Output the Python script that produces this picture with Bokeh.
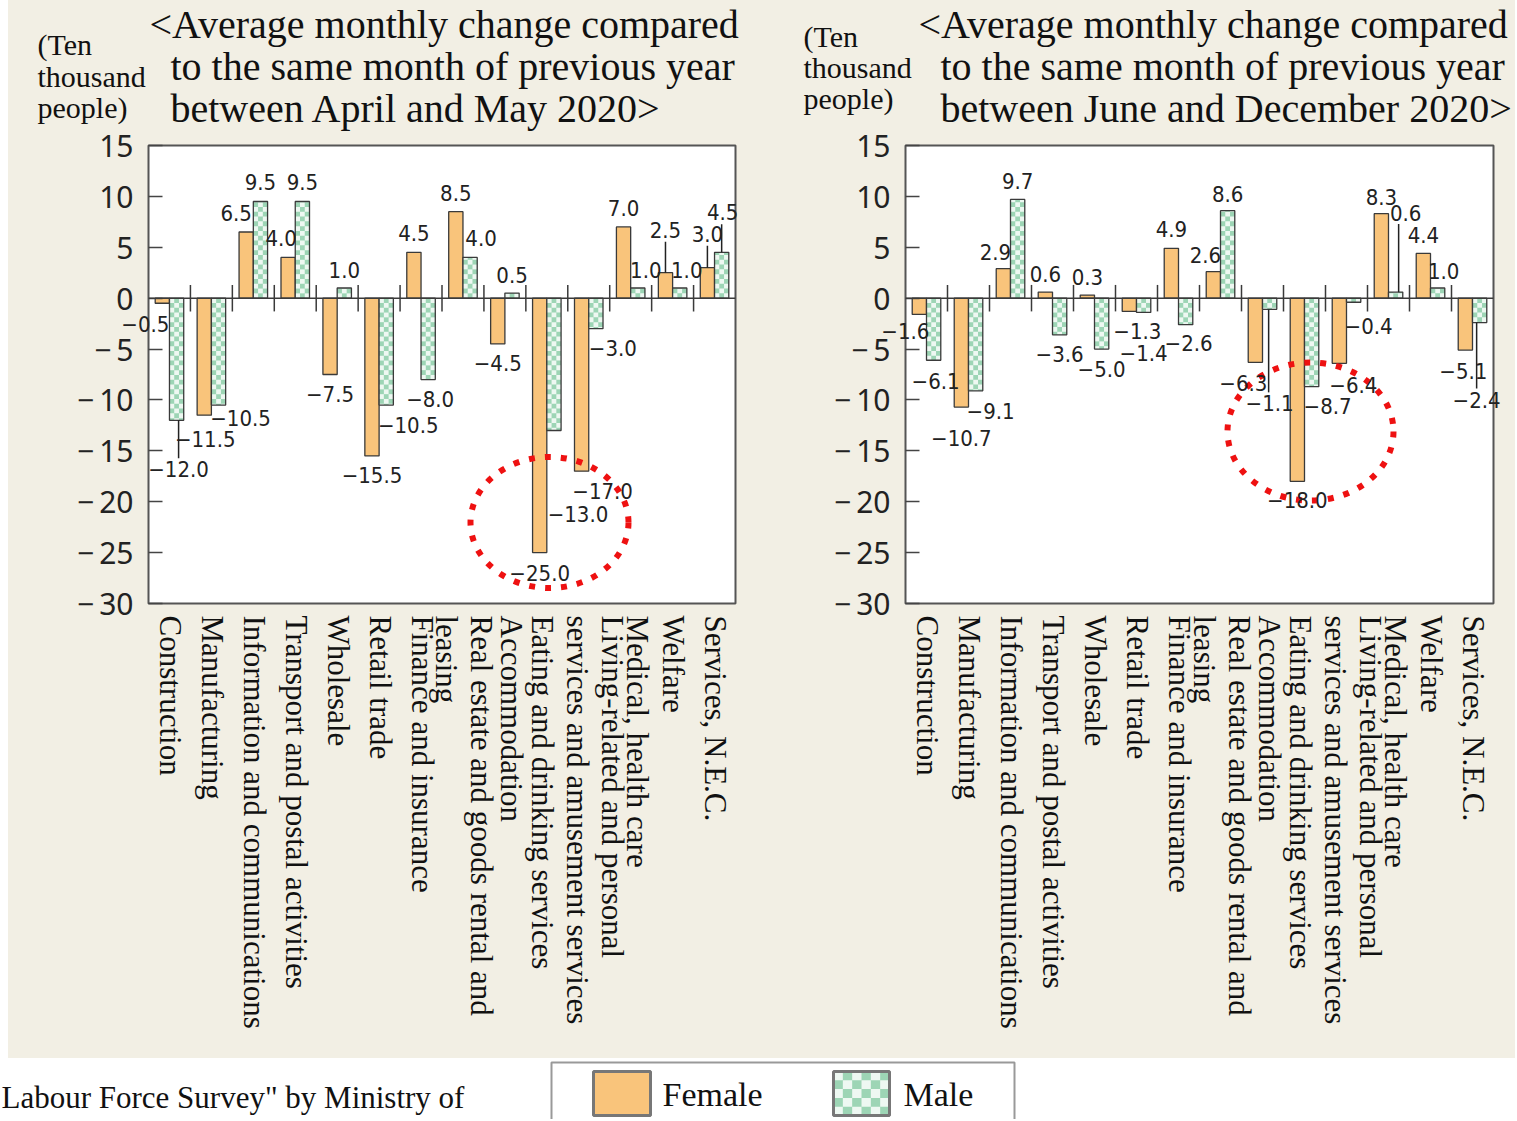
import math
from bokeh.plotting import figure
from bokeh.models import Range1d, FixedTicker, Span, ColumnDataSource, Spacer
from bokeh.layouts import row, column
from bokeh.embed import file_html
from bokeh.resources import INLINE
from bokeh.core.properties import value

# ------------------------------------------------------------------ data
categories = [
    "Construction",
    "Manufacturing",
    "Information and communications",
    "Transport and postal activities",
    "Wholesale",
    "Retail trade",
    "Finance and insurance",
    "Real estate and goods rental and\nleasing",
    "Accommodation",
    "Eating and drinking services",
    "Living-related and personal\nservices and amusement services",
    "Medical, health care",
    "Welfare",
    "Services, N.E.C.",
]
female_apr_may = [-0.5, -11.5, 6.5, 4.0, -7.5, -15.5, 4.5, 8.5, -4.5, -25.0, -17.0, 7.0, 2.5, 3.0]
male_apr_may = [-12.0, -10.5, 9.5, 9.5, 1.0, -10.5, -8.0, 4.0, 0.5, -13.0, -3.0, 1.0, 1.0, 4.5]
female_jun_dec = [-1.6, -10.7, 2.9, 0.6, 0.3, -1.3, 4.9, 2.6, -6.3, -18.0, -6.4, 8.3, 4.4, -5.1]
male_jun_dec = [-6.1, -9.1, 9.7, -3.6, -5.0, -1.4, -2.6, 8.6, -1.1, -8.7, -0.4, 0.6, 1.0, -2.4]

y_ticks = [-30, -25, -20, -15, -10, -5, 0, 5, 10, 15]
y_tick_labels = ["\u2212\u200930", "\u2212\u200925", "\u2212\u200920", "\u2212\u200915",
                 "\u2212\u200910", "\u2212\u20095", "0", "5", "10", "15"]

title_apr_may = ["<Average monthly change compared",
                 "to the same month of previous year",
                 "between April and May 2020>"]
title_jun_dec = ["<Average monthly change compared",
                 "to the same month of previous year",
                 "between June and December 2020>"]
unit_lines = ["(Ten", "thousand", "people)"]
series_names = ["Female", "Male"]
source_text = 'Labour Force Survey" by Ministry of'

# ------------------------------------------------------------------ styles / layout
BEIGE = "#f2efe4"
FEMALE_COLOR = "#f9c47b"
MALE_COLOR = "#9dd5b5"
MALE_LIGHT = "#eef8f2"
EDGE = "#3a3a3a"
SERIF = "Liberation Serif"
SANS = "Noto Sans"
NARROW = "DejaVu Sans Condensed"

Y_MIN, Y_MAX = -30, 15
FRAME_H = 458
FRAME_TOP_PAGE = 145
BORDER_TOP = FRAME_TOP_PAGE
BORDER_BOTTOM = 455
BAR_W = 0.34
CELL_PX = 4.8
LABEL_SHIFT_PX = 1
# per-category nudge (px) of the rotated category labels
label_nudge_px = [0, 0, 0, 0, 0, 0, 0, 0, 6, -5, 5, 6, 0, 0]

# label offsets in pixels (dx right, dy down) relative to bar end
left_f_off = [(-17, 21), (1, 24), (-10, -19), (-7, -19), (0, 19), (0, 19), (0, -19), (0, -19),
              (0, 19), (0, 20), (21, 20), (0, -19), (0, -43), (0, -34)]
left_m_off = [(2, 49), (22, 13), (0, -19), (0, -19), (0, -18), (22, 20), (2, 19), (11, -19),
              (0, -18), (24, 84), (17, 19), (8, -18), (7, -18), (1, -40)]
right_f_off = [(-14, 17), (0, 31), (-8, -17), (0, -18), (0, -18), (8, 20), (0, -19), (-8, -17),
               (-12, 21), (0, 19), (14, 22), (0, -17), (0, -18), (-2, 21)]
right_m_off = [(2, 21), (15, 20), (0, -18), (0, 19), (0, 20), (0, 41), (3, 18), (0, -17),
               (0, 94), (16, 19), (15, 24), (10, -79), (6, -17), (-3, 77)]
# leader lines: (series, index, dx, dy_start, dy_end)
left_leaders = [("m", 0, 2, 0, 38), ("f", 12, 0, 0, -31), ("f", 13, 0, 0, -22), ("m", 13, 0, 0, -28)]
right_leaders = [("m", 8, -1, 0, 83), ("m", 11, 3, 0, -68), ("m", 13, -3, 0, 66)]


def fmt(v):
    s = f"{abs(v):.1f}"
    return ("\u2212" + s) if v < 0 else s


def make_chart(female, male, title, frame_w, b_left, b_right, frame_left_page,
               f_off, m_off, leaders, circle, title_pos, unit_pos):
    n = len(categories)
    ppx = frame_w / n
    ppu = FRAME_H / (Y_MAX - Y_MIN)

    def dx_(page_x):
        return (page_x - frame_left_page) / ppx

    def dy_(page_y):
        return Y_MAX - (page_y - FRAME_TOP_PAGE) / ppu

    p = figure(x_range=Range1d(0, n), y_range=Range1d(Y_MIN, Y_MAX),
               frame_width=frame_w, frame_height=FRAME_H,
               min_border_left=b_left, min_border_right=b_right,
               min_border_top=BORDER_TOP, min_border_bottom=BORDER_BOTTOM,
               output_backend="svg", toolbar_location=None, title=None)
    p.background_fill_color = "white"
    p.border_fill_color = BEIGE
    p.outline_line_color = "#555555"
    p.outline_line_width = 2
    p.xgrid.visible = False
    p.ygrid.visible = False

    # category axis: one tick per category
    tick_pos = [round(i + 0.5 + (LABEL_SHIFT_PX + label_nudge_px[i]) / ppx, 6) for i in range(n)]
    xa = p.xaxis[0]
    xa.ticker = FixedTicker(ticks=tick_pos)
    xa.major_label_overrides = dict(zip(tick_pos, categories))
    xa.major_label_orientation = -math.pi / 2
    xa.major_tick_line_color = None
    xa.minor_tick_line_color = None
    xa.axis_line_color = None
    xa.major_label_text_font = SERIF
    xa.major_label_text_font_size = "31px"
    xa.major_label_text_color = "#111111"
    xa.major_label_text_line_height = 1.0
    xa.major_label_standoff = 6

    ya = p.yaxis[0]
    ya.ticker = FixedTicker(ticks=y_ticks)
    ya.major_label_overrides = dict(zip(y_ticks, y_tick_labels))
    ya.major_tick_in = 14
    ya.major_tick_out = 0
    ya.minor_tick_line_color = None
    ya.axis_line_color = None
    ya.major_tick_line_color = "#444444"
    ya.major_tick_line_width = 1.5
    ya.major_label_text_font = SANS
    ya.major_label_text_font_size = "30px"
    ya.major_label_text_color = "#222222"
    ya.major_label_standoff = 15

    src = ColumnDataSource(dict(
        cat=categories, female=female, male=male,
        xf=[i + 0.5 - BAR_W / 2 for i in range(n)],
        xm=[i + 0.5 + BAR_W / 2 for i in range(n)]))
    p.vbar(x="xf", top="female", bottom=0, width=BAR_W,
           fill_color=FEMALE_COLOR, line_color=EDGE, line_width=1.3, source=src)
    p.vbar(x="xm", top="male", bottom=0, width=BAR_W,
           fill_color=MALE_COLOR, line_color=None, source=src)

    # checker pattern on male bars
    cw = BAR_W / 3
    ch = CELL_PX / ppu
    L, R, T, B = [], [], [], []
    for i, v in enumerate(male):
        nrows = int(math.ceil(abs(v) / ch - 1e-9))
        sgn = 1 if v >= 0 else -1
        for r in range(nrows):
            y0 = r * ch
            y1 = min((r + 1) * ch, abs(v))
            for c in range(3):
                if (r + c) % 2 == 0:
                    L.append(i + 0.5 + c * cw)
                    R.append(i + 0.5 + (c + 1) * cw)
                    B.append(sgn * y0)
                    T.append(sgn * y1)
    p.quad(left=L, right=R, top=T, bottom=B, fill_color=MALE_LIGHT, line_color=None)
    p.vbar(x="xm", top="male", bottom=0, width=BAR_W,
           fill_color=None, line_color=EDGE, line_width=1.3, source=src)

    # zero line and category separators
    p.add_layout(Span(location=0, dimension="width", line_color=EDGE, line_width=1.5))
    p.segment(x0=list(range(1, n)), x1=list(range(1, n)), y0=[-1.3] * (n - 1), y1=[1.3] * (n - 1),
              line_color=EDGE, line_width=1.5)

    # value labels
    xs, ys, ts = [], [], []
    for vals, offs, sh in ((female, f_off, -BAR_W / 2), (male, m_off, BAR_W / 2)):
        for i, v in enumerate(vals):
            ox, oy = offs[i]
            xs.append(i + 0.5 + sh + ox / ppx)
            ys.append(v - oy / ppu)
            ts.append(fmt(v))
    p.text(x=xs, y=ys, text=ts, text_font=value(NARROW), text_font_size="22px",
           text_align="center", text_baseline="middle", text_color="#222222", level="overlay")

    # leader lines
    lx0, lx1, ly0, ly1 = [], [], [], []
    for sname, i, ox, d0, d1 in leaders:
        v = female[i] if sname == "f" else male[i]
        sh = -BAR_W / 2 if sname == "f" else BAR_W / 2
        x = i + 0.5 + sh + ox / ppx
        lx0.append(x); lx1.append(x)
        ly0.append(v - d0 / ppu); ly1.append(v - d1 / ppu)
    p.segment(x0=lx0, x1=lx1, y0=ly0, y1=ly1, line_color="#222222", line_width=1.5)

    # red dotted circle
    cx, cy, cwid, chei = circle
    p.ellipse(x=[dx_(cx)], y=[dy_(cy)], width=cwid, height=chei, width_units="screen",
              height_units="screen", fill_color=None, line_color="#ee1111", line_width=6,
              line_dash="6 10")

    # title and unit texts (above the frame)
    p.text(x=[dx_(pt[0]) for pt in title_pos], y=[dy_(pt[1]) for pt in title_pos], text=title,
           text_font=value(SERIF), text_font_size="40px", text_baseline="middle",
           text_align="left", text_color="#111111", level="overlay")
    p.text(x=[dx_(pt[0]) for pt in unit_pos], y=[dy_(pt[1]) for pt in unit_pos], text=unit_lines,
           text_font=value(SERIF), text_font_size="30px", text_baseline="middle",
           text_align="left", text_color="#111111", level="overlay")
    return p


LEFT_W = 762
RIGHT_W = 745
left = make_chart(female_apr_may, male_apr_may, title_apr_may, 587, 140, 35, 148,
                  left_f_off, left_m_off, left_leaders, (549, 522, 158, 131),
                  [(149, 24), (170, 66), (170, 108)], [(37, 44), (37, 76), (37, 107)])
right = make_chart(female_jun_dec, male_jun_dec, title_jun_dec, 588, 135, 22, 905,
                   right_f_off, right_m_off, right_leaders, (1310, 431, 166, 138),
                   [(918, 24), (940, 66), (940, 108)], [(803, 36), (803, 67), (803, 98)])

# bottom strip with source and legend
BOT_W = 8 + LEFT_W + RIGHT_W
BOT_H = 61
bot = figure(width=BOT_W, height=BOT_H, x_range=Range1d(0, BOT_W), y_range=Range1d(BOT_H, 0),
             min_border=0, output_backend="svg", toolbar_location=None, title=None,
             x_axis_location=None, y_axis_location=None)
bot.xgrid.visible = False
bot.ygrid.visible = False
bot.outline_line_color = None
bot.background_fill_color = "white"
bot.border_fill_color = "white"
bot.text(x=[1], y=[39], text=[source_text], text_font=value(SERIF), text_font_size="31px",
         text_baseline="middle", text_color="#111111")
bot.quad(left=[551], right=[1014], top=[4], bottom=[80], fill_color=None, line_color="#999999",
         line_width=2)
bot.quad(left=[593], right=[650], top=[13], bottom=[57], fill_color=FEMALE_COLOR,
         line_color="#777777", line_width=3)
bot.quad(left=[833], right=[889], top=[13], bottom=[57], fill_color=MALE_COLOR,
         line_color=None)
sw_l, sw_r, sw_t, sw_b = [], [], [], []
cwx = (889 - 833) / 6
chy = (57 - 13) / 5
for r in range(5):
    for c in range(6):
        if (r + c) % 2 == 0:
            sw_l.append(833 + c * cwx); sw_r.append(833 + (c + 1) * cwx)
            sw_t.append(13 + r * chy); sw_b.append(13 + (r + 1) * chy)
bot.quad(left=sw_l, right=sw_r, top=sw_t, bottom=sw_b, fill_color=MALE_LIGHT, line_color=None)
bot.quad(left=[833], right=[889], top=[13], bottom=[57], fill_color=None,
         line_color="#777777", line_width=3)
bot.text(x=[662, 903], y=[36, 36], text=series_names, text_font=value(SERIF),
         text_font_size="34px", text_baseline="middle", text_color="#111111")

charts = row(left, right, spacing=0, styles={"background-color": BEIGE})
layout = column(row(Spacer(width=8, height=1058), charts, spacing=0), bot, spacing=0)
open("out.html", "w").write(file_html(layout, INLINE))
